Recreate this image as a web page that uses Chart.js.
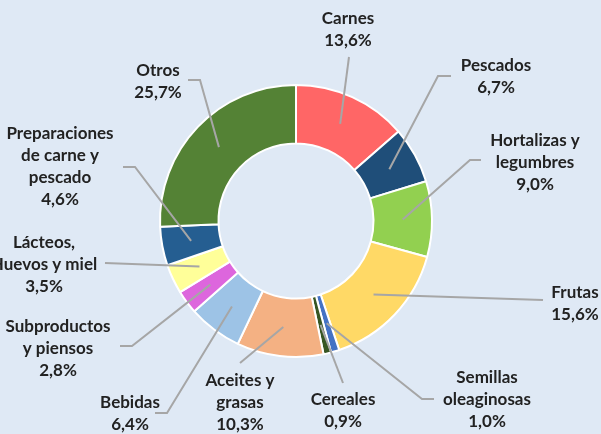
<!DOCTYPE html>
<html>
<head>
<meta charset="utf-8">
<script src="https://cdn.jsdelivr.net/npm/chart.js@4.4.0/dist/chart.umd.min.js"></script>
<style>
  html, body { margin: 0; padding: 0; background: #dfe9f5; }
  #wrap { width: 601px; height: 434px; }
</style>
</head>
<body>
<div id="wrap"><canvas id="donut" width="601" height="434"></canvas></div>
<script>
// data (clockwise from 12 o'clock)
const categories = [
    ['Carnes'], ['Pescados'], ['Hortalizas y', 'legumbres'], ['Frutas'],
    ['Semillas', 'oleaginosas'], ['Cereales'], ['Aceites y', 'grasas'], ['Bebidas'],
    ['Subproductos', 'y piensos'], ['Lácteos,', 'Huevos y miel'],
    ['Preparaciones', 'de carne y', 'pescado'], ['Otros']
];
const shares = [13.6, 6.7, 9.0, 15.6, 1.0, 0.9, 10.3, 6.4, 2.8, 3.5, 4.6, 25.7];
const sliceColors = [
    '#ff6666', '#1f4e79', '#92d050', '#ffd966', '#4472c4', '#375623',
    '#f4b183', '#9dc3e6', '#dd66dd', '#ffff99', '#255e91', '#548235'
];

// where each label sits and where its leader line bends / ends
const labelLayout = [
    { x: 348, y: 19, bend: null, end: [349, 57] },
    { x: 496, y: 66, bend: [438, 76], end: [451, 76] },
    { x: 535, y: 141, bend: [470, 160], end: [481, 160] },
    { x: 575, y: 293, bend: null, end: [543, 300] },
    { x: 487, y: 378, bend: [422, 399], end: [434, 399] },
    { x: 343, y: 400, bend: null, end: [343, 383] },
    { x: 240, y: 381, bend: null, end: [240, 363] },
    { x: 130, y: 403, bend: [167, 413], end: [155, 413] },
    { x: 58, y: 327, bend: [132, 346], end: [120, 346] },
    { x: 44, y: 243, bend: null, end: [105, 263] },
    { x: 60, y: 134, bend: [135, 167], end: [123, 167] },
    { x: 158, y: 71, bend: [200, 80], end: [188, 80] }
];

function pct(v) {
    return v.toFixed(1).replace('.', ',') + '%';
}

const leaderLabels = {
    id: 'leaderLabels',
    afterDatasetsDraw(chart) {
        const ctx = chart.ctx;
        const arcs = chart.getDatasetMeta(0).data;
        ctx.save();
        arcs.forEach((arc, i) => {
            const start = arc.getCenterPoint();
            const lay = labelLayout[i];
            ctx.strokeStyle = '#a6a6a6';
            ctx.lineWidth = 2;
            ctx.beginPath();
            ctx.moveTo(start.x, start.y);
            if (lay.bend) ctx.lineTo(lay.bend[0], lay.bend[1]);
            ctx.lineTo(lay.end[0], lay.end[1]);
            ctx.stroke();

            const lines = categories[i].concat([pct(shares[i])]);
            ctx.fillStyle = '#222222';
            ctx.font = 'bold 17px Lato, "Open Sans", sans-serif';
            ctx.textAlign = 'center';
            ctx.textBaseline = 'middle';
            lines.forEach((t, k) => ctx.fillText(t, lay.x, lay.y + k * 22));
        });
        ctx.restore();
    }
};

new Chart(document.getElementById('donut').getContext('2d'), {
    type: 'doughnut',
    data: {
        labels: categories.map(c => c.join(' ')),
        datasets: [{
            data: shares,
            backgroundColor: sliceColors,
            borderColor: '#ffffff',
            borderWidth: 2
        }]
    },
    options: {
        responsive: false,
        animation: false,
        cutout: '57%',
        layout: {
            padding: { top: 84, bottom: 76, left: 150, right: 159 }
        },
        plugins: {
            legend: { display: false },
            tooltip: { enabled: false }
        }
    },
    plugins: [leaderLabels]
});
</script>
</body>
</html>
